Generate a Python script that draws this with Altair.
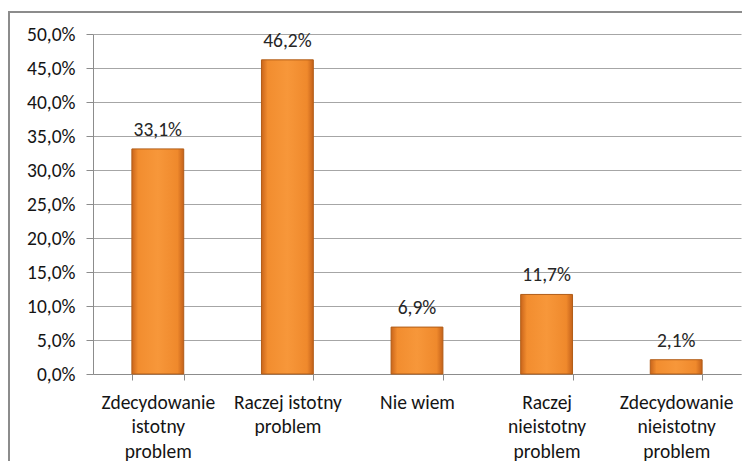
import altair as alt
import pandas as pd

categories = [
    "Zdecydowanie|istotny|problem",
    "Raczej istotny|problem",
    "Nie wiem",
    "Raczej|nieistotny|problem",
    "Zdecydowanie|nieistotny|problem",
]
values = [33.1, 46.2, 6.9, 11.7, 2.1]
y_ticks = [0, 5, 10, 15, 20, 25, 30, 35, 40, 45, 50]

df = pd.DataFrame({"cat": categories, "val": values})
df["lbl"] = [f"{v:.1f}".replace(".", ",") + "%" for v in values]

FONT = "Carlito, Lato, Liberation Sans"
FS = 19.5

x = alt.X(
    "cat:N",
    sort=categories,
    title=None,
    scale=alt.Scale(paddingInner=0.6, paddingOuter=0.3),
    axis=alt.Axis(
        labelExpr="split(datum.label, '|')",
        labelAngle=0,
        labelFontSize=FS,
        labelLineHeight=24.5,
        labelPadding=13,
        labelColor="#141414",
        labelFont=FONT,
        tickBand="extent",
        tickSize=6,
        tickColor="#8c8c8c",
        domainColor="#8c8c8c",
        labelBaseline="top",
        labelOverlap=False,
    ),
)

y = alt.Y(
    "val:Q",
    title=None,
    scale=alt.Scale(domain=[0, 50], nice=False),
    axis=alt.Axis(
        values=y_ticks,
        labelExpr="replace(format(datum.value, '.1f'), '.', ',') + '%'",
        labelFontSize=FS,
        labelFont=FONT,
        labelColor="#141414",
        labelPadding=11,
        labelOverlap=False,
        tickSize=7,
        tickColor="#8c8c8c",
        domainColor="#8c8c8c",
        gridColor="#a6a6a6",
        gridWidth=1,
    ),
)

grad = alt.Gradient(
    gradient="linear",
    x1=0, x2=1, y1=0, y2=0,
    stops=[
        alt.GradientStop(color="#c9651b", offset=0),
        alt.GradientStop(color="#f28d2f", offset=0.12),
        alt.GradientStop(color="#f7973a", offset=0.5),
        alt.GradientStop(color="#ef892c", offset=0.88),
        alt.GradientStop(color="#c4611a", offset=1),
    ],
)

bars = alt.Chart(df).mark_bar(fill=grad, stroke="#b15d18", strokeWidth=1).encode(x=x, y=y)

labels = alt.Chart(df).mark_text(
    baseline="alphabetic", dy=-13, fontSize=FS, font=FONT, color="#262626"
).encode(x=x, y=y, text="lbl:N")

border = alt.Chart(pd.DataFrame({"a": [0]})).mark_rect(
    fill="transparent", stroke="#8c8c8c", strokeWidth=2, clip=False
).encode(
    x=alt.value(-84), x2=alt.value(720), y=alt.value(-22), y2=alt.value(520)
)

chart = alt.layer(bars, labels, border).properties(
    width=648,
    height=340,
    autosize=alt.AutoSizeParams(type="none"),
    padding={"left": 85, "top": 26, "right": 1, "bottom": 87},
).configure_view(stroke=None)

chart.save("out.html", embed_options={"renderer": "svg", "actions": False})
